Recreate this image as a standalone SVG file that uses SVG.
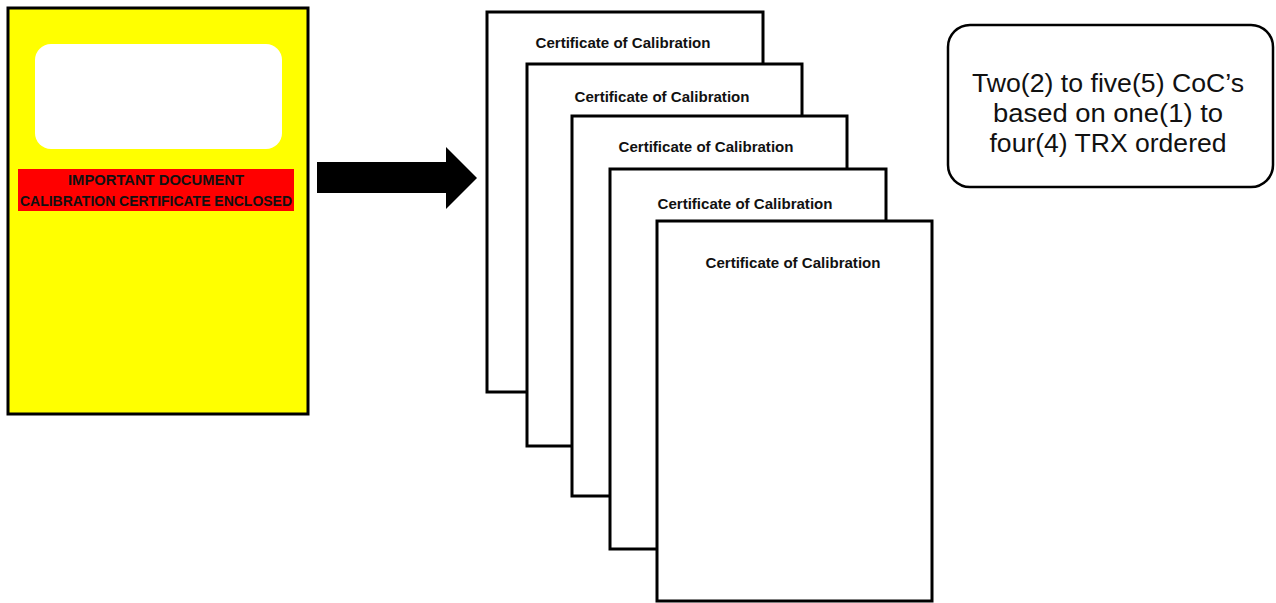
<svg xmlns="http://www.w3.org/2000/svg" width="1276" height="603" viewBox="0 0 1276 603">
<style>
.cert{fill:#fff;stroke:#000;stroke-width:3}
.ct{font-family:"Liberation Sans",Arial,sans-serif;font-weight:bold;font-size:14px;fill:#111;text-anchor:middle}
.rt{font-family:"Liberation Sans",Arial,sans-serif;font-weight:bold;font-size:15px;fill:#111;text-anchor:middle}
.bt{font-family:"Liberation Sans",Arial,sans-serif;font-size:25px;fill:#111;text-anchor:middle}
</style>
<rect width="1276" height="603" fill="#fff"/>
<g id="envelope">
<rect x="8" y="8" width="300" height="406" fill="#ffff00" stroke="#000" stroke-width="3"/>
<rect x="35" y="44" width="247" height="105" rx="16" fill="#fff"/>
<rect x="18" y="169" width="276" height="42" fill="#ff0000"/>
<text class="rt" x="156" y="185" textLength="176" lengthAdjust="spacingAndGlyphs">IMPORTANT DOCUMENT</text>
<text class="rt" x="156" y="206" textLength="272" lengthAdjust="spacingAndGlyphs">CALIBRATION CERTIFICATE ENCLOSED</text>
</g>
<g id="connectors">
<polygon points="317,162 446,162 446,147 477,178 446,209 446,193 317,193" fill="#000"/>
</g>
<g id="cert1"><rect class="cert" x="487" y="12" width="276" height="380"/><text class="ct" x="623" y="48" textLength="175" lengthAdjust="spacingAndGlyphs">Certificate of Calibration</text></g>
<g id="cert2"><rect class="cert" x="527" y="64" width="275" height="382"/><text class="ct" x="662" y="102" textLength="175" lengthAdjust="spacingAndGlyphs">Certificate of Calibration</text></g>
<g id="cert3"><rect class="cert" x="572" y="116" width="275" height="380"/><text class="ct" x="706" y="152" textLength="175" lengthAdjust="spacingAndGlyphs">Certificate of Calibration</text></g>
<g id="cert4"><rect class="cert" x="610" y="169" width="276" height="380"/><text class="ct" x="745" y="209" textLength="175" lengthAdjust="spacingAndGlyphs">Certificate of Calibration</text></g>
<g id="cert5"><rect class="cert" x="657" y="221" width="275" height="380"/><text class="ct" x="793" y="268" textLength="175" lengthAdjust="spacingAndGlyphs">Certificate of Calibration</text></g>
<g id="note">
<rect x="948" y="25" width="325" height="162" rx="22" fill="#fff" stroke="#000" stroke-width="2.5"/>
<text class="bt" x="1108" y="92" textLength="272" lengthAdjust="spacingAndGlyphs">Two(2) to five(5) CoC’s</text>
<text class="bt" x="1108" y="122" textLength="230" lengthAdjust="spacingAndGlyphs">based on one(1) to</text>
<text class="bt" x="1108" y="152" textLength="237" lengthAdjust="spacingAndGlyphs">four(4) TRX ordered</text>
</g>
</svg>
